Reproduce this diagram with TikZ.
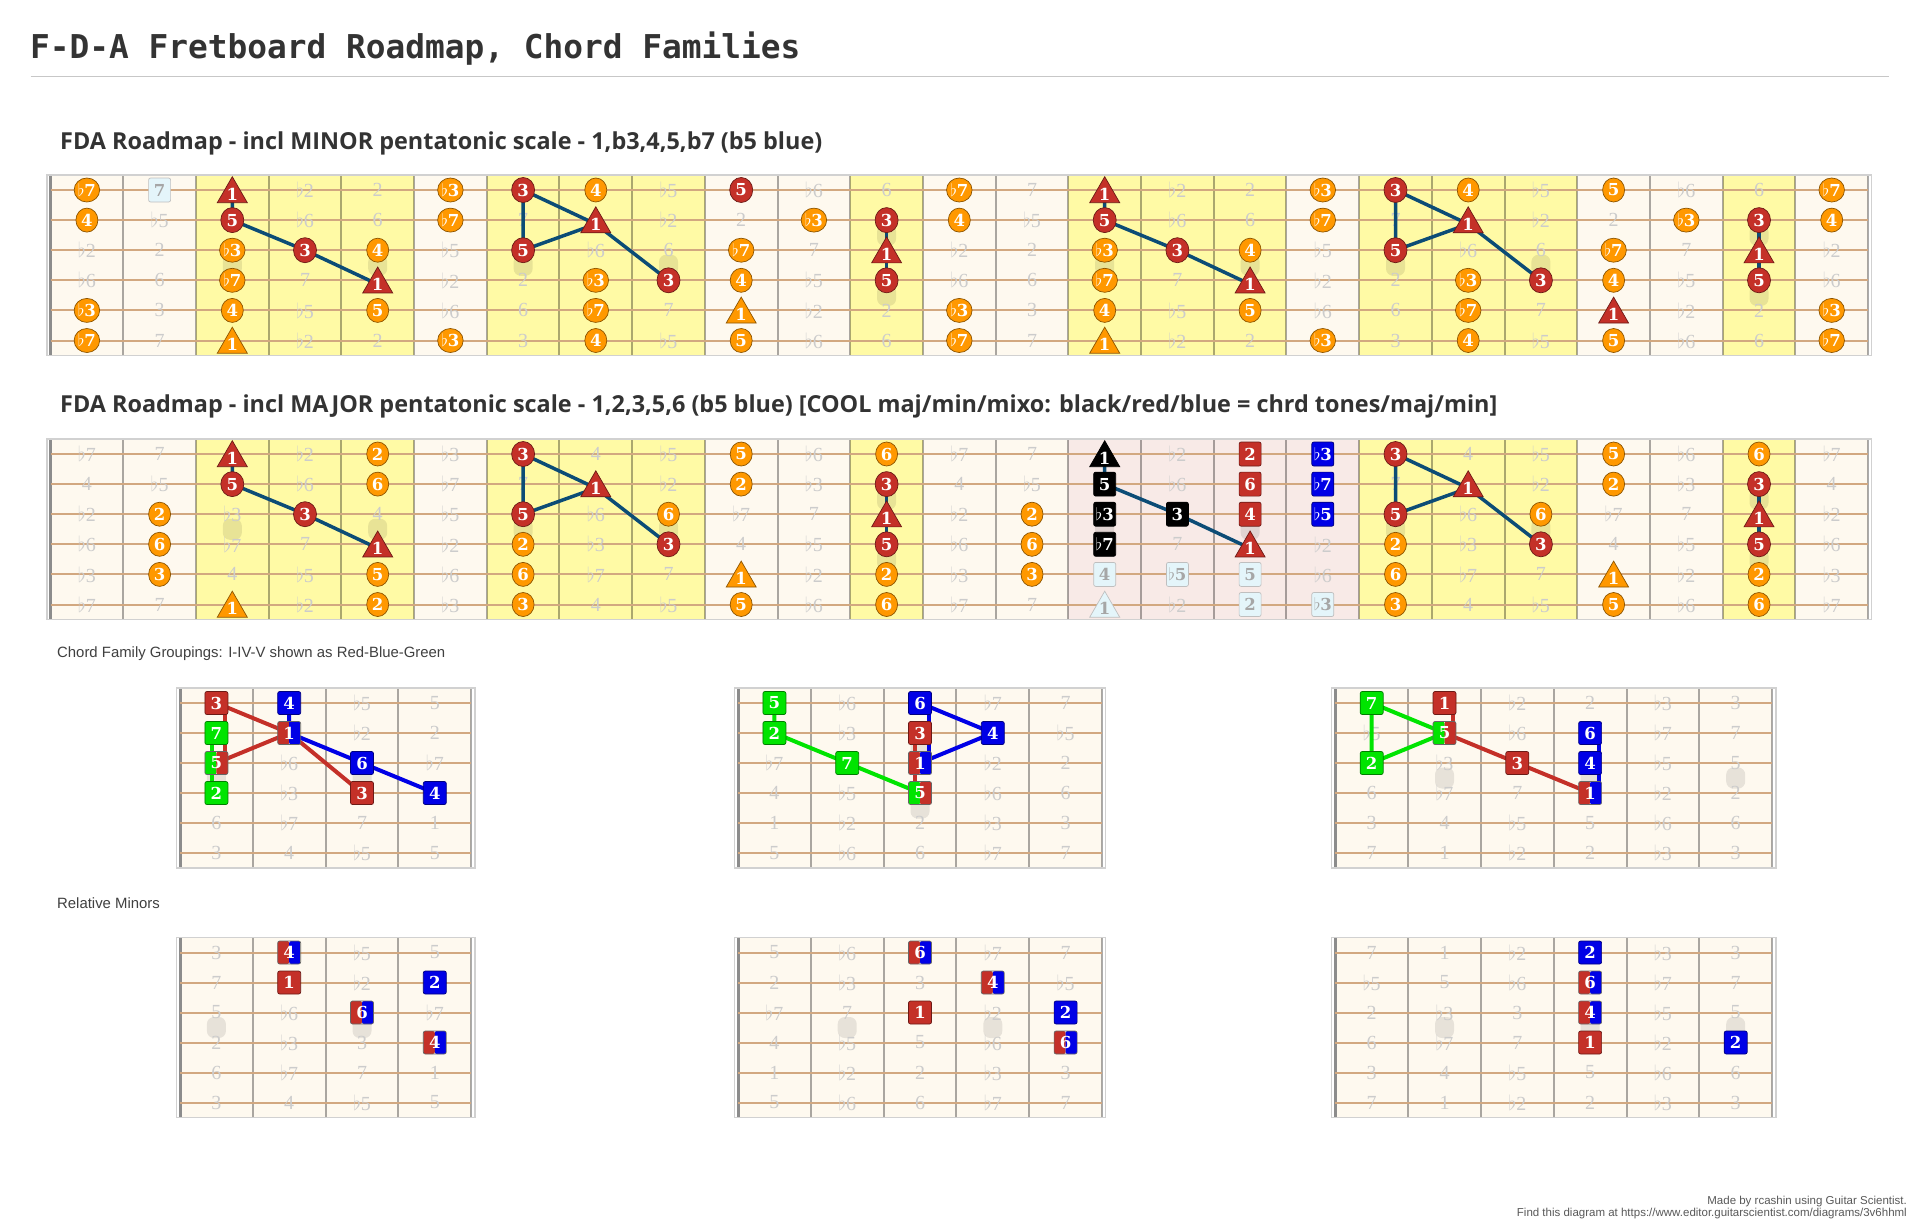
\documentclass[tikz,border=0pt]{standalone}
\usepackage{fontspec}
\setmainfont{Open Sans}
\newfontfamily\monofnt{DejaVu Sans Mono}
\newfontfamily\plainfnt{Liberation Sans}
\newfontfamily\digfnt{DejaVu Serif}
\newfontfamily\ghostfnt{Liberation Serif}
\usetikzlibrary{shapes.geometric}
\definecolor{inkc}{RGB}{51,51,51}
\definecolor{creamc}{RGB}{254,249,239}
\definecolor{yellowc}{RGB}{255,250,165}
\definecolor{pinkc}{RGB}{248,234,231}
\definecolor{orangec}{RGB}{255,152,0}
\definecolor{redc}{RGB}{196,48,40}
\definecolor{bluec}{RGB}{0,0,230}
\definecolor{greenc}{RGB}{0,228,0}
\definecolor{wirec}{RGB}{12,76,118}
\definecolor{stringc}{RGB}{210,168,128}
\definecolor{paleblue}{RGB}{228,245,250}
\pgfdeclarelayer{back}
\pgfdeclarelayer{wires}
\pgfsetlayers{back,wires,main}
\tikzset{
  fret/.style={draw=black, draw opacity=0.33, line width=2pt},
  nut/.style={draw=black!45, line width=3pt},
  strg/.style={draw=stringc, line width=2pt},
  rim/.style={draw=black!18, line width=1.5pt},
  ghost/.style={text=black!20, inner sep=0pt, font=\ghostfnt\fontsize{20}{20}\selectfont},
  inlay/.style={fill=black, fill opacity=0.09, rounded corners=7pt, minimum width=19pt, minimum height=21pt, inner sep=0pt},
  tone/.style={text=white, inner sep=0pt, font=\digfnt\bfseries\fontsize{16.5}{16.5}\selectfont, line width=0.7pt},
  orn/.style={tone, ellipse, fill=orangec, draw=orangec!55!black, minimum width=22pt, minimum height=24pt},
  redn/.style={tone, ellipse, fill=redc, draw=redc!55!black, minimum width=23pt, minimum height=25pt},
  tri/.style={tone, regular polygon, regular polygon sides=3, minimum size=33pt, yshift=-4pt},
  otri/.style={tri, fill=orangec, draw=orangec!55!black},
  rtri/.style={tri, fill=redc, draw=redc!55!black},
  ktri/.style={tri, fill=black, draw=black},
  ptri/.style={tri, fill=paleblue, draw=black!25, text=black!35},
  sq/.style={tone, rectangle, rounded corners=2pt, minimum width=22pt, minimum height=24pt},
  kbox/.style={sq, fill=black, draw=black},
  rbox/.style={sq, fill=redc, draw=redc!55!black},
  bbox/.style={sq, fill=bluec, draw=bluec!55!black},
  pbox/.style={sq, fill=paleblue, draw=black!25, text=black!35},
  rsq/.style={rbox, minimum height=23pt, minimum width=23pt},
  bsq/.style={bbox, minimum height=23pt, minimum width=23pt},
  gsq/.style={sq, fill=greenc, draw=greenc!55!black, minimum height=23pt, minimum width=23pt},
  twotone/.style 2 args={sq, minimum height=23pt, minimum width=23pt, draw=black!60,
    path picture={\fill[#1] (path picture bounding box.south west) rectangle (path picture bounding box.north);
      \fill[#2] (path picture bounding box.south) rectangle (path picture bounding box.north east);}},
  wire/.style={draw=wirec, line width=3.5pt, line join=round},
  rwire/.style={draw=redc, line width=4pt, line join=round},
  bwire/.style={draw=bluec, line width=4pt, line join=round},
  gwire/.style={draw=greenc, line width=4pt, line join=round},
  head/.style={anchor=west, inner sep=0pt, text=inkc, font=\bfseries\fontsize{23.4}{26}\selectfont},
  sub/.style={anchor=west, inner sep=0pt, text=black!75, font=\plainfnt\fontsize{14.9}{16}\selectfont},
  foot/.style={anchor=east, inner sep=0pt, text=black!65, font=\plainfnt\fontsize{11.5}{11.5}\selectfont}
}
\def\fl{$\flat$}
\def\dgname#1{\ifcase#1\relax 1\or\fl2\or 2\or\fl3\or 3\or 4\or\fl5\or 5\or\fl6\or 6\or\fl7\or 7\fi}
\def\cells#1#2{\foreach \fr in {#2} {\fill[#1] (\fr-0.5,-0.5) rectangle (\fr+0.5,5.5);}}
\def\inlays#1#2#3#4{\foreach \fr in {#4} {\node[inlay] (#1-i#3\fr) at (\fr,#2) {};}}
\makeatletter
\def\fretwork#1#2#3{%
  \foreach \fr in {1,...,#2} {\draw[fret] (\fr-0.5,-0.5) -- (\fr-0.5,5.5);}
  \draw[nut] (-0.5,-0.5) -- (-0.5,5.5);
  \foreach \sn in {0,...,5} {\draw[strg] (-0.5,\sn) -- (#2-0.5,\sn);}
  \pgfmathtruncatemacro\lastc{#2-1}
  \foreach \sn/\k in {0/0,1/7,2/3,3/10,4/5,5/0} {
    \foreach \fr in {0,...,\lastc} {
      \pgfmathtruncatemacro\dg{mod(#3+\k+\fr,12)}
      \@ifundefined{pgf@sh@ns@#1-\fr-\sn}{\node[ghost] (#1-g\fr-\sn) at (\fr,\sn) {\dgname\dg};}{}
    }
  }
  \draw[rim] (-0.55,-0.5) rectangle (#2-0.45,5.5);
}
\makeatother

\begin{document}
\begin{tikzpicture}[x=1pt,y=-1pt]
\useasboundingbox (0,0) rectangle (1919,1227);
\begin{pgfonlayer}{back}
\fill[white] (0,0) rectangle (1919,1227);
\end{pgfonlayer}
\node[anchor=west, inner sep=0pt, text=inkc, font=\monofnt\bfseries\fontsize{32.8}{36}\selectfont] (title) at (30,49) {F-D-A Fretboard Roadmap, Chord Families};
\draw[black!22, line width=1pt] (30.6,76) -- (1888.5,76);
\node[head] (minhead) at (60,143) {FDA Roadmap - incl MINOR pentatonic scale - 1,b3,4,5,b7 (b5 blue)};
\node[head] (majhead) at (60,406) {FDA Roadmap - incl MAJOR pentatonic scale - 1,2,3,5,6 (b5 blue) [COOL maj/min/mixo: black/red/blue = chrd tones/maj/min]};
\node[sub] (famhead) at (57,654) {Chord Family Groupings: I-IV-V shown as Red-Blue-Green};
\node[sub] (relhead) at (57,903) {Relative Minors};
\node[foot] (made) at (1907,1202) {Made by rcashin using Guitar Scientist.};
\node[foot] (link) at (1907,1214) {Find this diagram at https://www.editor.guitarscientist.com/diagrams/3v6hhml};

\begin{scope}[shift={(86.9pt,-190pt)}, x=72.7pt, y=-30.1pt]
\foreach \fr/\sn/\tx in {0/0/\fl7,0/1/4,0/4/\fl3,0/5/\fl7,2/2/\fl3,2/3/\fl7,2/4/4,4/2/4,4/4/5,5/0/\fl3,5/1/\fl7,5/5/\fl3,7/0/4,7/3/\fl3,7/4/\fl7,7/5/4,9/2/\fl7,9/3/4,9/5/5,10/1/\fl3,12/0/\fl7,12/1/4,12/4/\fl3,12/5/\fl7,14/2/\fl3,14/3/\fl7,14/4/4,16/2/4,16/4/5,17/0/\fl3,17/1/\fl7,17/5/\fl3,19/0/4,19/3/\fl3,19/4/\fl7,19/5/4,21/0/5,21/2/\fl7,21/3/4,21/5/5,22/1/\fl3,24/0/\fl7,24/1/4,24/4/\fl3,24/5/\fl7}
  {\node[orn] (m-\fr-\sn) at (\fr,\sn) {\tx};}
\foreach \fr/\sn/\tx in {2/1/5,3/2/3,6/0/3,6/2/5,8/3/3,9/0/5,11/1/3,11/3/5,14/1/5,15/2/3,18/0/3,18/2/5,20/3/3,23/1/3,23/3/5}
  {\node[redn] (m-\fr-\sn) at (\fr,\sn) {\tx};}
\foreach \fr/\sn in {2/5,9/4,14/5}
  {\node[otri] (m-\fr-\sn) at (\fr,\sn) {1};}
\foreach \fr/\sn in {2/0,4/3,7/1,11/2,14/0,16/3,19/1,21/4,23/2}
  {\node[rtri] (m-\fr-\sn) at (\fr,\sn) {1};}
\node[pbox] (m-1-0) at (1,0) {7};
\begin{pgfonlayer}{back}
\fill[creamc] (-0.5,-0.5) rectangle (24.5,5.5);
\cells{yellowc}{2,3,4,6,7,8,11,14,15,16,18,19,20,23}
\inlays{m}{2.5}{c}{2,4,6,8,14,16,18,20}
\inlays{m}{1.5}{u}{11,23}
\inlays{m}{3.5}{d}{11,23}
\fretwork{m}{25}{10}
\end{pgfonlayer}
\begin{pgfonlayer}{wires}
\draw[wire] (m-2-0.center) -- (m-2-1.center) -- (m-3-2.center) -- (m-4-3.center);
\draw[wire] (m-6-0.center) -- (m-7-1.center) -- (m-6-2.center) -- cycle;
\draw[wire] (m-7-1.center) -- (m-8-3.center);
\draw[wire] (m-11-1.center) -- (m-11-2.center) -- (m-11-3.center);
\draw[wire] (m-14-0.center) -- (m-14-1.center) -- (m-15-2.center) -- (m-16-3.center);
\draw[wire] (m-18-0.center) -- (m-19-1.center) -- (m-18-2.center) -- cycle;
\draw[wire] (m-19-1.center) -- (m-20-3.center);
\draw[wire] (m-23-1.center) -- (m-23-2.center) -- (m-23-3.center);
\end{pgfonlayer}
\end{scope}

\begin{scope}[shift={(86.9pt,-454pt)}, x=72.7pt, y=-30.1pt]
\foreach \fr/\sn/\tx in {1/2/2,1/3/6,1/4/3,4/0/2,4/1/6,4/4/5,4/5/2,6/3/2,6/4/6,6/5/3,8/2/6,9/0/5,9/1/2,9/5/5,11/0/6,11/4/2,11/5/6,13/2/2,13/3/6,13/4/3,18/3/2,18/4/6,18/5/3,20/2/6,21/0/5,21/1/2,21/5/5,23/0/6,23/4/2,23/5/6}
  {\node[orn] (j-\fr-\sn) at (\fr,\sn) {\tx};}
\foreach \fr/\sn/\tx in {2/1/5,3/2/3,6/0/3,6/2/5,8/3/3,11/1/3,11/3/5,18/0/3,18/2/5,20/3/3,23/1/3,23/3/5}
  {\node[redn] (j-\fr-\sn) at (\fr,\sn) {\tx};}
\foreach \fr/\sn in {2/5,9/4,21/4}
  {\node[otri] (j-\fr-\sn) at (\fr,\sn) {1};}
\foreach \fr/\sn in {2/0,4/3,7/1,11/2,16/3,19/1,23/2}
  {\node[rtri] (j-\fr-\sn) at (\fr,\sn) {1};}
\node[ktri] (j-14-0) at (14,0) {1};
\foreach \fr/\sn/\tx in {14/1/5,14/2/\fl3,14/3/\fl7,15/2/3}
  {\node[kbox] (j-\fr-\sn) at (\fr,\sn) {\tx};}
\foreach \fr/\sn/\tx in {16/0/2,16/1/6,16/2/4}
  {\node[rbox] (j-\fr-\sn) at (\fr,\sn) {\tx};}
\foreach \fr/\sn/\tx in {17/0/\fl3,17/1/\fl7,17/2/\fl5}
  {\node[bbox] (j-\fr-\sn) at (\fr,\sn) {\tx};}
\foreach \fr/\sn/\tx in {14/4/4,15/4/\fl5,16/4/5,16/5/2,17/5/\fl3}
  {\node[pbox] (j-\fr-\sn) at (\fr,\sn) {\tx};}
\node[ptri] (j-14-5) at (14,5) {1};
\begin{pgfonlayer}{back}
\fill[creamc] (-0.5,-0.5) rectangle (24.5,5.5);
\cells{yellowc}{2,3,4,6,7,8,11,18,19,20,23}
\cells{pinkc}{14,15,16,17}
\inlays{j}{2.5}{c}{2,4,6,8,14,16,18,20}
\inlays{j}{1.5}{u}{11,23}
\inlays{j}{3.5}{d}{11,23}
\fretwork{j}{25}{10}
\end{pgfonlayer}
\begin{pgfonlayer}{wires}
\draw[wire] (j-2-0.center) -- (j-2-1.center) -- (j-3-2.center) -- (j-4-3.center);
\draw[wire] (j-6-0.center) -- (j-7-1.center) -- (j-6-2.center) -- cycle;
\draw[wire] (j-7-1.center) -- (j-8-3.center);
\draw[wire] (j-11-1.center) -- (j-11-2.center) -- (j-11-3.center);
\draw[wire] (j-14-0.center) -- (j-14-1.center) -- (j-15-2.center) -- (j-16-3.center);
\draw[wire] (j-18-0.center) -- (j-19-1.center) -- (j-18-2.center) -- cycle;
\draw[wire] (j-19-1.center) -- (j-20-3.center);
\draw[wire] (j-23-1.center) -- (j-23-2.center) -- (j-23-3.center);
\end{pgfonlayer}
\end{scope}

\begin{scope}[shift={(216.4pt,-703pt)}, x=72.8pt, y=-30pt]
\node[rsq] (fa-0-0) at (0,0) {3};
\node[gsq] (fa-0-1) at (0,1) {7};
\node[twotone={greenc}{redc}] (fa-0-2) at (0,2) {5};
\node[gsq] (fa-0-3) at (0,3) {2};
\node[bsq] (fa-1-0) at (1,0) {4};
\node[twotone={redc}{bluec}] (fa-1-1) at (1,1) {1};
\node[bsq] (fa-2-2) at (2,2) {6};
\node[rsq] (fa-2-3) at (2,3) {3};
\node[bsq] (fa-3-3) at (3,3) {4};
\begin{pgfonlayer}{back}
\fill[creamc] (-0.5,-0.5) rectangle (3.5,5.5);
\inlays{fa}{2.5}{c}{0,2}
\fretwork{fa}{4}{4}
\end{pgfonlayer}
\begin{pgfonlayer}{wires}
\draw[rwire] ([xshift=9pt]fa-0-0.center) -- ([xshift=9pt]fa-0-2.center);
\draw[rwire] (fa-0-0.center) -- (fa-1-1.center) -- (fa-0-2.center);
\draw[rwire] (fa-1-1.center) -- (fa-2-3.center);
\draw[gwire] ([xshift=-4pt]fa-0-1.center) -- ([xshift=-4pt]fa-0-3.center);
\draw[bwire] (fa-1-0.center) -- (fa-1-1.center) -- (fa-2-2.center) -- (fa-3-3.center);
\end{pgfonlayer}
\end{scope}

\begin{scope}[shift={(774.4pt,-703pt)}, x=72.8pt, y=-30pt]
\node[gsq] (fb-0-0) at (0,0) {5};
\node[gsq] (fb-0-1) at (0,1) {2};
\node[gsq] (fb-1-2) at (1,2) {7};
\node[bsq] (fb-2-0) at (2,0) {6};
\node[rsq] (fb-2-1) at (2,1) {3};
\node[twotone={redc}{bluec}] (fb-2-2) at (2,2) {1};
\node[twotone={greenc}{redc}] (fb-2-3) at (2,3) {5};
\node[bsq] (fb-3-1) at (3,1) {4};
\begin{pgfonlayer}{back}
\fill[creamc] (-0.5,-0.5) rectangle (4.5,5.5);
\inlays{fb}{1.5}{u}{2}
\inlays{fb}{3.5}{d}{2}
\fretwork{fb}{5}{7}
\end{pgfonlayer}
\begin{pgfonlayer}{wires}
\draw[gwire] (fb-0-0.center) -- (fb-0-1.center) -- (fb-1-2.center) -- (fb-2-3.center);
\draw[bwire] (fb-2-0.center) -- (fb-3-1.center) -- (fb-2-2.center);
\draw[bwire] ([xshift=9pt]fb-2-0.center) -- ([xshift=9pt]fb-2-2.center);
\draw[rwire] ([xshift=-5pt]fb-2-1.center) -- ([xshift=-5pt]fb-2-3.center);
\end{pgfonlayer}
\end{scope}

\begin{scope}[shift={(1371.7pt,-703pt)}, x=72.8pt, y=-30pt]
\node[gsq] (fc-0-0) at (0,0) {7};
\node[gsq] (fc-0-2) at (0,2) {2};
\node[rsq] (fc-1-0) at (1,0) {1};
\node[twotone={greenc}{redc}] (fc-1-1) at (1,1) {5};
\node[rsq] (fc-2-2) at (2,2) {3};
\node[bsq] (fc-3-1) at (3,1) {6};
\node[bsq] (fc-3-2) at (3,2) {4};
\node[twotone={redc}{bluec}] (fc-3-3) at (3,3) {1};
\begin{pgfonlayer}{back}
\fill[creamc] (-0.5,-0.5) rectangle (5.5,5.5);
\inlays{fc}{2.5}{c}{1,3,5}
\fretwork{fc}{6}{11}
\end{pgfonlayer}
\begin{pgfonlayer}{wires}
\draw[gwire] (fc-0-0.center) -- (fc-1-1.center) -- (fc-0-2.center) -- cycle;
\draw[rwire] ([xshift=8pt]fc-1-0.center) -- ([xshift=8pt]fc-1-1.center);
\draw[rwire] (fc-1-1.center) -- (fc-2-2.center) -- (fc-3-3.center);
\draw[bwire] ([xshift=9pt]fc-3-1.center) -- ([xshift=9pt]fc-3-2.center) -- ([xshift=9pt]fc-3-3.center);
\end{pgfonlayer}
\end{scope}

\begin{scope}[shift={(216.4pt,-952.5pt)}, x=72.8pt, y=-30pt]
\node[twotone={redc}{bluec}] (ra-1-0) at (1,0) {4};
\node[rsq] (ra-1-1) at (1,1) {1};
\node[twotone={redc}{bluec}] (ra-2-2) at (2,2) {6};
\node[bsq] (ra-3-1) at (3,1) {2};
\node[twotone={redc}{bluec}] (ra-3-3) at (3,3) {4};
\begin{pgfonlayer}{back}
\fill[creamc] (-0.5,-0.5) rectangle (3.5,5.5);
\inlays{ra}{2.5}{c}{0,2}
\fretwork{ra}{4}{4}
\end{pgfonlayer}
\end{scope}

\begin{scope}[shift={(774.4pt,-952.5pt)}, x=72.8pt, y=-30pt]
\node[twotone={redc}{bluec}] (rb-2-0) at (2,0) {6};
\node[rsq] (rb-2-2) at (2,2) {1};
\node[twotone={redc}{bluec}] (rb-3-1) at (3,1) {4};
\node[bsq] (rb-4-2) at (4,2) {2};
\node[twotone={redc}{bluec}] (rb-4-3) at (4,3) {6};
\begin{pgfonlayer}{back}
\fill[creamc] (-0.5,-0.5) rectangle (4.5,5.5);
\inlays{rb}{2.5}{c}{1,3}
\fretwork{rb}{5}{7}
\end{pgfonlayer}
\end{scope}

\begin{scope}[shift={(1371.7pt,-952.5pt)}, x=72.8pt, y=-30pt]
\node[bsq] (rc-3-0) at (3,0) {2};
\node[twotone={redc}{bluec}] (rc-3-1) at (3,1) {6};
\node[twotone={redc}{bluec}] (rc-3-2) at (3,2) {4};
\node[rsq] (rc-3-3) at (3,3) {1};
\node[bsq] (rc-5-3) at (5,3) {2};
\begin{pgfonlayer}{back}
\fill[creamc] (-0.5,-0.5) rectangle (5.5,5.5);
\inlays{rc}{2.5}{c}{1,3,5}
\fretwork{rc}{6}{11}
\end{pgfonlayer}
\end{scope}
\end{tikzpicture}
\end{document}
